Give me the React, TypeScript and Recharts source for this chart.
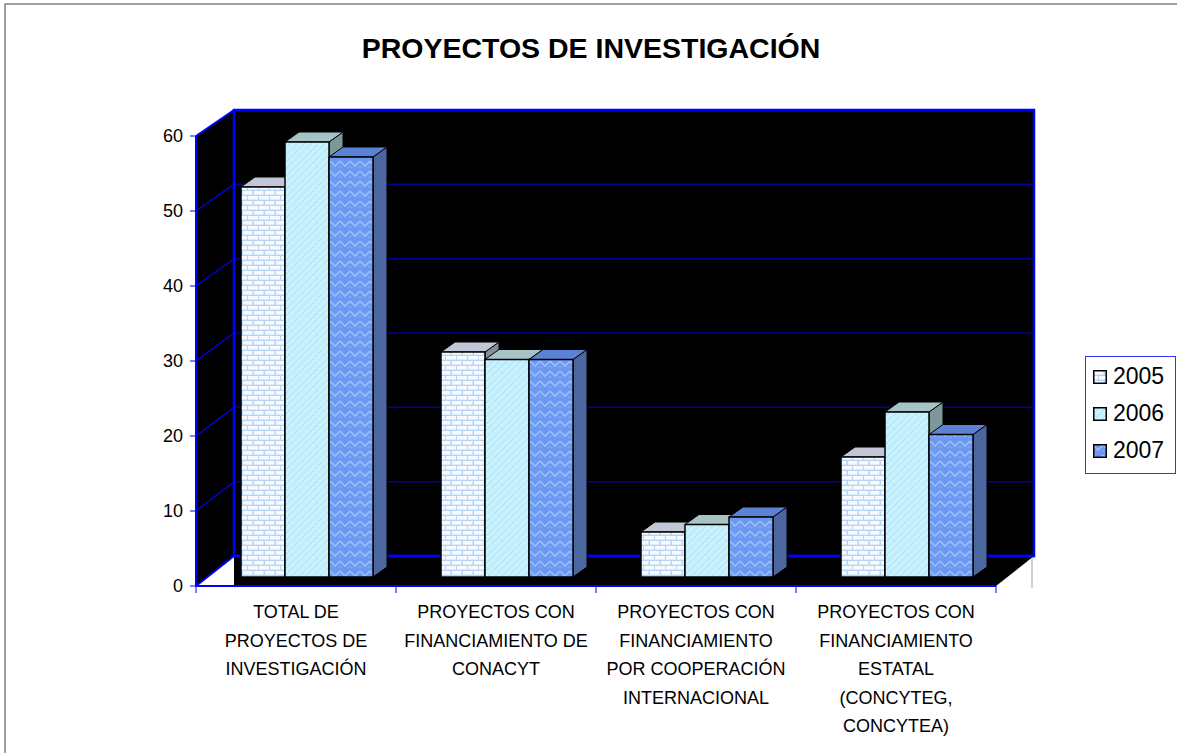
import React from 'react';
import { BarChart, Bar, XAxis, YAxis, Legend } from 'recharts';

// ---------- data ----------
const categories = [
  'TOTAL DE\nPROYECTOS DE\nINVESTIGACIÓN',
  'PROYECTOS CON\nFINANCIAMIENTO DE\nCONACYT',
  'PROYECTOS CON\nFINANCIAMIENTO\nPOR COOPERACIÓN\nINTERNACIONAL',
  'PROYECTOS CON\nFINANCIAMIENTO\nESTATAL\n(CONCYTEG,\nCONCYTEA)',
];
const values2005 = [52, 30, 6, 16];
const values2006 = [58, 29, 7, 22];
const values2007 = [56, 29, 8, 19];
const seriesNames = ['2005', '2006', '2007'];
const yTicks = [0, 10, 20, 30, 40, 50, 60];
const chartTitle = 'PROYECTOS DE INVESTIGACIÓN';

const data = categories.map((name, i) => ({
  name,
  s2005: values2005[i],
  s2006: values2006[i],
  s2007: values2007[i],
}));

// ---------- layout ----------
const W = 1177;
const H = 753;
const PL = 196; // front plane
const PT = 136;
const PR = 996;
const PB = 586;
const BL = 234; // back wall
const BT = 110;
const BR = 1034;
const BB = 556;
const Y_AXIS_W = 60;
const X_AXIS_H = 150;
const BAR_DX = 11;
const BAR_DY = -9;
const DEPTH_DX = 14;
const DEPTH_DY = -10;
const FONT = '"Liberation Sans", Arial, sans-serif';
const BLUE = '#0000ff';

const styles = [
  { front: 'url(#p2005)', top: '#c3c6d6', side: '#868e98', swatch: 'url(#p2005)' },
  { front: 'url(#p2006)', top: '#a6c4c6', side: '#7d989a', swatch: 'url(#p2006)' },
  { front: 'url(#p2007)', top: '#5b82d4', side: '#4c66a0', swatch: 'url(#p2007)' },
];

function makeShape(idx: number) {
  const st = styles[idx];
  return (props: any) => {
    const { x, y, width, height } = props;
    if (x == null || width == null || height == null) return <g />;
    const fx = x + BAR_DX;
    const fy = y + BAR_DY;
    const w = width;
    const h = height;
    const dx = DEPTH_DX;
    const dy = DEPTH_DY;
    return (
      <g>
        <polygon
          points={`${fx + w},${fy} ${fx + w + dx},${fy + dy} ${fx + w + dx},${fy + h + dy} ${fx + w},${fy + h}`}
          fill={st.side}
          stroke="#000"
          strokeWidth={1}
        />
        <polygon
          points={`${fx},${fy} ${fx + dx},${fy + dy} ${fx + w + dx},${fy + dy} ${fx + w},${fy}`}
          fill={st.top}
          stroke="#000"
          strokeWidth={1}
        />
        <rect x={fx} y={fy} width={w} height={h} fill={st.front} stroke="#000" strokeWidth={1.5} />
      </g>
    );
  };
}

const CategoryTick = (props: any) => {
  const { x, y, payload } = props;
  const lines = String(payload.value).split('\n');
  return (
    <text x={x} y={y} textAnchor="middle" fontFamily={FONT} fontSize={18} fill="#000">
      {lines.map((l, i) => (
        <tspan key={i} x={x} dy={i === 0 ? 24 : 28.5}>
          {l}
        </tspan>
      ))}
    </text>
  );
};

const LegendContent = () => (
  <div
    style={{
      width: 91,
      height: 118,
      border: '1px solid #3333ff',
      boxSizing: 'border-box',
      background: '#fff',
      fontFamily: FONT,
      fontSize: 23,
      paddingTop: 1,
    }}
  >
    {seriesNames.map((n, i) => (
      <div key={n} style={{ display: 'flex', alignItems: 'center', height: 37 }}>
        <svg width={14} height={14} style={{ marginLeft: 7, marginRight: 6 }}>
          <rect x={0.75} y={0.75} width={12.5} height={12.5} fill={styles[i].swatch} stroke="#000" strokeWidth={1.5} />
        </svg>
        <span style={{ color: '#000', lineHeight: '23px' }}>{n}</span>
      </div>
    ))}
  </div>
);

const Background = () => {
  const vToFront = (v: number) => PB - ((PB - PT) * v) / 60;
  const vToBack = (v: number) => BB - ((BB - BT) * v) / 60;
  const catW = (PR - PL) / categories.length;
  const boundaries = Array.from({ length: categories.length + 1 }, (_, i) => PL + i * catW);
  return (
    <svg width={W} height={H} style={{ position: 'absolute', left: 0, top: 0 }}>
      <defs>
        <pattern id="p2005" width="11" height="10" patternUnits="userSpaceOnUse">
          <rect width="11" height="10" fill="#b8d4f4" />
          <rect x="1" y="1" width="9.5" height="3.6" fill="#f7fbff" />
          <rect x="-4.5" y="6" width="9.5" height="3.6" fill="#f7fbff" />
          <rect x="6" y="6" width="9.5" height="3.6" fill="#f7fbff" />
        </pattern>
        <pattern id="p2006" width="7" height="7" patternUnits="userSpaceOnUse">
          <rect width="7" height="7" fill="#c8f1fe" />
          <path d="M0,7 L7,0" stroke="#ade0f4" strokeWidth="1" />
          <path d="M-1,1 L1,-1 M6,8 L8,6" stroke="#ade0f4" strokeWidth="1" />
          <rect x="4" y="4" width="1" height="1" fill="#e6fbff" />
        </pattern>
        <pattern id="p2007" width="10" height="10" patternUnits="userSpaceOnUse">
          <rect width="10" height="10" fill="#6b98f1" />
          <path d="M0,1 L5,6 L10,1" stroke="#9bbefa" strokeWidth="1.6" fill="none" />
          <path d="M0,6 L2,8 M8,8 L10,6" stroke="#86acf6" strokeWidth="1" fill="none" />
        </pattern>
      </defs>
      {/* outer border */}
      <rect x={5} y={4} width={W + 20} height={H + 20} fill="#fff" stroke="#808080" strokeWidth={1.5} />
      {/* title */}
      <text x={591} y={58} textAnchor="middle" fontFamily={FONT} fontWeight="bold" fontSize={28.5} fill="#000">
        {chartTitle}
      </text>
      {/* back wall */}
      <rect x={BL} y={BT} width={BR - BL} height={BB - BT} fill="#000" />
      {/* left wall */}
      <polygon points={`${PL},${PT} ${BL},${BT} ${BL},${BB} ${PL},${PB}`} fill="#000" />
      {/* floor */}
      <polygon points={`${BL},${BB} ${BR},${BB} ${PR},${PB} ${BL},${PB}`} fill="#000" />
      {/* back gridlines */}
      {yTicks
        .filter((v) => v > 0 && v < 60)
        .map((v) => (
          <line key={'bg' + v} x1={BL} x2={BR} y1={vToBack(v)} y2={vToBack(v)} stroke="#00009a" strokeWidth={1.5} />
        ))}
      <line x1={BL} x2={BR} y1={BB} y2={BB} stroke={BLUE} strokeWidth={2.5} />
      {/* left wall gridlines */}
      {yTicks
        .filter((v) => v > 0 && v < 60)
        .map((v) => (
          <line key={'lg' + v} x1={PL} x2={BL} y1={vToFront(v)} y2={vToBack(v)} stroke={BLUE} strokeWidth={1.2} />
        ))}
      <line x1={PL} x2={BL} y1={PT} y2={BT} stroke={BLUE} strokeWidth={2} />
      <line x1={PL} x2={BL} y1={PB} y2={BB} stroke={BLUE} strokeWidth={2} />
      {/* back wall border */}
      <rect x={BL} y={BT} width={BR - BL} height={BB - BT} fill="none" stroke={BLUE} strokeWidth={2.5} />
      {/* floor right edge marker */}
      <line x1={BR - 2} x2={BR - 2} y1={BB + 2} y2={PB + 2} stroke="#c0c0c0" strokeWidth={1.5} />
      {/* category boundary ticks */}
      {boundaries.map((bx, i) => (
        <line key={'xt' + i} x1={bx} x2={bx} y1={PB} y2={PB + 7} stroke={BLUE} strokeWidth={1} />
      ))}
    </svg>
  );
};

export default function App() {
  return (
    <div style={{ position: 'absolute', left: 0, top: 0, width: W, height: H, background: '#fff' }}>
      <Background />
      <div style={{ position: 'absolute', left: 0, top: 0 }}>
        <BarChart
          width={W}
          height={H}
          data={data}
          margin={{ top: PT, right: W - PR, bottom: H - PB - X_AXIS_H, left: PL - Y_AXIS_W }}
          barCategoryGap="17%"
          barGap={0}
        >
          <XAxis
            dataKey="name"
            interval={0}
            height={X_AXIS_H}
            tick={<CategoryTick />}
            tickLine={false}
            axisLine={{ stroke: BLUE, strokeWidth: 2 }}
          />
          <YAxis
            domain={[0, 60]}
            ticks={yTicks}
            interval={0}
            width={Y_AXIS_W}
            tickSize={6}
            tickMargin={7}
            tick={{ fontSize: 18, fill: '#000', fontFamily: FONT }}
            axisLine={{ stroke: BLUE, strokeWidth: 2 }}
            tickLine={{ stroke: BLUE, strokeWidth: 1 }}
          />
          <Legend
            layout="vertical"
            align="center"
            verticalAlign="middle"
            content={<LegendContent />}
            wrapperStyle={{ position: 'absolute', left: 1085, top: 356, width: 91 }}
          />
          <Bar dataKey="s2005" name="2005" isAnimationActive={false} shape={makeShape(0)} />
          <Bar dataKey="s2006" name="2006" isAnimationActive={false} shape={makeShape(1)} />
          <Bar dataKey="s2007" name="2007" isAnimationActive={false} shape={makeShape(2)} />
        </BarChart>
      </div>
    </div>
  );
}
